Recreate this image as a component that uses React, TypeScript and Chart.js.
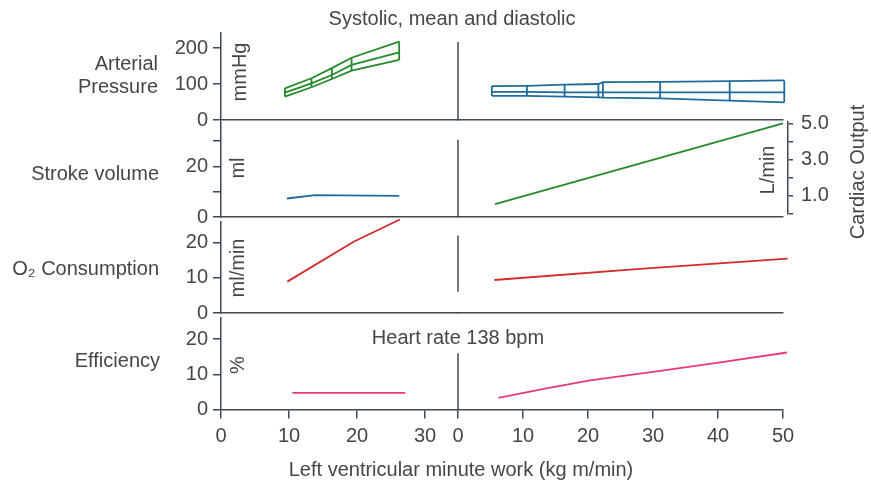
import React, { useEffect, useRef } from 'react';
import { Chart, registerables } from 'chart.js';

Chart.register(...registerables);

const W = 871;
const H = 485;
const FONT = "'Liberation Sans', Arial, sans-serif";
const FONT_SIZE = 20;
const TEXT = '#464646';
const AXIS = '#3f4953';
const GREEN = '#248a2c';
const BLUE = '#1f6b9b';
const RED = '#d52b2b';
const PINK = '#e8397a';

// ---- x axis (left ventricular minute work, kg m/min) ----
const workTicksLeft = [0, 10, 20, 30];
const workTicksRight = [0, 10, 20, 30, 40, 50];

// ---- Arterial pressure (mmHg) ----
const apTicks = [0, 100, 200];
const apLeftWork = [9.4, 13.3, 16.3, 19.2, 26.2];
const apLeftSys = [88, 116, 144, 173, 218];
const apLeftMean = [76, 102, 125, 153, 188];
const apLeftDia = [65, 91, 114, 137, 167];
const apRightWork = [5.2, 10.6, 16.4, 21.6, 22.3, 31.1, 41.8, 50.2];
const apRightSys = [94, 95, 98, 100, 105, 106, 108, 110];
const apRightMean = [78, 78, 77, 77, 77, 77, 77, 77];
const apRightDia = [67, 67, 65, 63, 62, 60, 54, 49];

// ---- Stroke volume (ml) ----
const svTicks = [0, 10, 20, 30];
const svTickLabels = ['0', '', '20', ''];
const svLeftWork = [9.7, 13.8, 26.2];
const svLeft = [7.3, 8.6, 8.3];

// ---- Cardiac output (L/min) ----
const coTicks = [0, 1, 2, 3, 4, 5];
const coTickLabels = ['', '1.0', '', '3.0', '', '5.0'];
const coRightWork = [5.7, 50];
const coRight = [0.55, 5.0];

// ---- O2 consumption (ml/min) ----
const o2Ticks = [0, 10, 20];
const o2LeftWork = [9.75, 19.5, 26.3];
const o2Left = [8.9, 20.2, 26.5];
const o2RightWork = [5.6, 28, 50.7];
const o2Right = [9.35, 12.5, 15.4];

// ---- Efficiency (%) ----
const effTicks = [0, 10, 20];
const effLeftWork = [10.5, 27.1];
const effLeft = [4.7, 4.7];
const effRightWork = [6.2, 13.6, 20.3, 30.0, 39.3, 50.6];
const effRight = [3.3, 6.0, 8.3, 10.7, 13.1, 16.2];

// ---- layout ----
const AREA_LEFT = 221;
const AREA_SPLIT = 458;
const AREA_RIGHT = 783;
const Y_BOX = 60;
const X_BOX = 50;
const CO_BOX = 50;
const XL_MIN = 0;
const XL_MAX = 34.85;
const XR_MIN = 0;
const XR_MAX = 50;

const font = { family: FONT, size: FONT_SIZE };

const pts = (xs: number[], ys: number[]) => xs.map((x, i) => ({ x, y: ys[i] }));

const line = (xs: number[], ys: number[], color: string, xAxisID: string, yAxisID = 'y', width = 1.8) => ({
  data: pts(xs, ys),
  borderColor: color,
  backgroundColor: color,
  borderWidth: width,
  pointRadius: 0,
  fill: false,
  tension: 0,
  xAxisID,
  yAxisID,
  clip: false as any,
});

const xScale = (min: number, max: number, ticks: number[], showTicks: boolean, weight: number) => ({
  type: 'linear',
  position: 'bottom',
  min,
  max,
  bounds: 'data',
  stack: 'work',
  stackWeight: weight,
  afterFit: (s: any) => { s.height = showTicks ? X_BOX : 0; },
  afterBuildTicks: (s: any) => { s.ticks = ticks.map((v) => ({ value: v })); },
  grid: { drawOnChartArea: false, drawTicks: showTicks, tickLength: 9, color: AXIS, lineWidth: 1.5 },
  border: { display: true, color: AXIS, width: 1.5 },
  ticks: {
    display: showTicks, autoSkip: false, maxRotation: 0, padding: 6, color: TEXT, font,
    callback: (v: number) => String(v),
  },
});

const yScale = (max: number, ticks: number[], labels?: string[]) => ({
  type: 'linear',
  position: 'left',
  min: 0,
  max,
  bounds: 'data',
  afterFit: (s: any) => { s.width = Y_BOX; },
  afterBuildTicks: (s: any) => { s.ticks = ticks.map((v) => ({ value: v })); },
  grid: { drawOnChartArea: false, tickLength: 8, color: AXIS, lineWidth: 1.5 },
  border: { color: AXIS, width: 1.5 },
  ticks: {
    autoSkip: false, padding: 5, color: TEXT, font,
    callback: (v: number, i: number) => (labels ? labels[i] : String(v)),
  },
});

const dividerPlugin = (from: number, to: number) => ({
  id: 'divider',
  beforeDatasetsDraw(chart: any) {
    const ctx = chart.ctx;
    const x = chart.scales.xR.getPixelForValue(0);
    const y = chart.scales.y;
    ctx.save();
    ctx.strokeStyle = AXIS;
    ctx.lineWidth = 1.5;
    ctx.beginPath();
    ctx.moveTo(x, y.getPixelForValue(from));
    ctx.lineTo(x, y.getPixelForValue(to));
    ctx.stroke();
    ctx.restore();
  },
});

const rangeBarsPlugin = (groups: { xs: number[]; hi: number[]; lo: number[]; color: string; axis: string }[]) => ({
  id: 'rangeBars',
  afterDatasetsDraw(chart: any) {
    const ctx = chart.ctx;
    const ys = chart.scales.y;
    groups.forEach((g) => {
      const xs = chart.scales[g.axis];
      ctx.save();
      ctx.strokeStyle = g.color;
      ctx.lineWidth = 1.8;
      ctx.beginPath();
      g.xs.forEach((x, i) => {
        const px = xs.getPixelForValue(x);
        ctx.moveTo(px, ys.getPixelForValue(g.lo[i]));
        ctx.lineTo(px, ys.getPixelForValue(g.hi[i]));
      });
      ctx.stroke();
      ctx.restore();
    });
  },
});

const coShiftPlugin = {
  id: 'coShift',
  afterLayout(chart: any) {
    const s = chart.scales.yCO;
    s.left += 5;
    s.right += 5;
    s.bottom = s.getPixelForValue(0);
  },
};

type FreeText = { text: string; x: number; y: number; align: CanvasTextAlign; rotate?: boolean };
const freeTexts: FreeText[] = [
  { text: 'Systolic, mean and diastolic', x: 452, y: 25, align: 'center' },
  { text: 'Arterial', x: 158, y: 70, align: 'right' },
  { text: 'Pressure', x: 158, y: 93, align: 'right' },
  { text: 'Stroke volume', x: 159, y: 180, align: 'right' },
  { text: 'O\u2082 Consumption', x: 159, y: 275, align: 'right' },
  { text: 'Efficiency', x: 160, y: 367, align: 'right' },
  { text: 'Heart rate 138 bpm', x: 458, y: 344, align: 'center' },
  { text: 'Left ventricular minute work (kg m/min)', x: 461, y: 476, align: 'center' },
  { text: 'mmHg', x: 240, y: 72, align: 'center', rotate: true },
  { text: 'ml', x: 238, y: 168, align: 'center', rotate: true },
  { text: 'ml/min', x: 238, y: 268, align: 'center', rotate: true },
  { text: '%', x: 238, y: 365, align: 'center', rotate: true },
  { text: 'L/min', x: 768, y: 170, align: 'center', rotate: true },
  { text: 'Cardiac Output', x: 858, y: 172, align: 'center', rotate: true },
];

const textPlugin = {
  id: 'freeText',
  afterDraw(chart: any) {
    const ctx = chart.ctx;
    ctx.save();
    ctx.fillStyle = TEXT;
    ctx.font = `${FONT_SIZE}px ${FONT}`;
    freeTexts.forEach((t) => {
      if (t.rotate) {
        ctx.save();
        ctx.translate(t.x, t.y);
        ctx.rotate(-Math.PI / 2);
        ctx.textAlign = 'center';
        ctx.textBaseline = 'middle';
        ctx.fillText(t.text, 0, 0);
        ctx.restore();
      } else {
        ctx.textAlign = t.align;
        ctx.textBaseline = 'alphabetic';
        ctx.fillText(t.text, t.x, t.y);
      }
    });
    ctx.restore();
  },
};

type Panel = {
  top: number;
  bottom: number;
  yMax: number;
  yTicks: number[];
  yLabels?: string[];
  datasets: any[];
  divider: [number, number];
  showX: boolean;
  extraScales?: Record<string, any>;
  rightBox: number;
  plugins: any[];
};

const panels: Panel[] = [
  {
    top: 33, bottom: 120, yMax: 241.7, yTicks: apTicks,
    datasets: [
      line(apLeftWork, apLeftSys, GREEN, 'xL'),
      line(apLeftWork, apLeftMean, GREEN, 'xL'),
      line(apLeftWork, apLeftDia, GREEN, 'xL'),
      line(apRightWork, apRightSys, BLUE, 'xR'),
      line(apRightWork, apRightMean, BLUE, 'xR'),
      line(apRightWork, apRightDia, BLUE, 'xR'),
    ],
    divider: [0, 217],
    showX: false,
    rightBox: 0,
    plugins: [
      rangeBarsPlugin([
        { xs: apLeftWork, hi: apLeftSys, lo: apLeftDia, color: GREEN, axis: 'xL' },
        { xs: apRightWork, hi: apRightSys, lo: apRightDia, color: BLUE, axis: 'xR' },
      ]),
    ],
  },
  {
    top: 122, bottom: 217, yMax: 37.5, yTicks: svTicks, yLabels: svTickLabels,
    datasets: [
      line(svLeftWork, svLeft, BLUE, 'xL'),
      line(coRightWork, coRight, GREEN, 'xR', 'yCO'),
    ],
    divider: [0, 30.5],
    showX: false,
    rightBox: CO_BOX,
    extraScales: {
      yCO: {
        type: 'linear', position: 'right', min: -0.165, max: 5.07, bounds: 'data',
        afterFit: (s: any) => { s.width = CO_BOX; },
        afterBuildTicks: (s: any) => { s.ticks = coTicks.map((v) => ({ value: v })); },
        grid: { drawOnChartArea: false, tickLength: 5, color: AXIS, lineWidth: 1.5 },
        border: { color: AXIS, width: 1.5 },
        ticks: {
          autoSkip: false, padding: 8, color: TEXT, font,
          callback: (_v: number, i: number) => coTickLabels[i],
        },
      },
    },
    plugins: [coShiftPlugin],
  },
  {
    top: 222, bottom: 313, yMax: 25.8, yTicks: o2Ticks,
    datasets: [
      line(o2LeftWork, o2Left, RED, 'xL'),
      line(o2RightWork, o2Right, RED, 'xR'),
    ],
    divider: [6, 22],
    showX: false,
    rightBox: 0,
    plugins: [],
  },
  {
    top: 318, bottom: 409.5, yMax: 26, yTicks: effTicks,
    datasets: [
      line(effLeftWork, effLeft, PINK, 'xL'),
      line(effRightWork, effRight, PINK, 'xR'),
    ],
    divider: [0, 16],
    showX: true,
    rightBox: 0,
    plugins: [textPlugin],
  },
];

function buildConfig(p: Panel): any {
  return {
    type: 'line',
    data: { datasets: p.datasets },
    options: {
      responsive: false,
      maintainAspectRatio: false,
      animation: false,
      devicePixelRatio: 1,
      events: [],
      layout: {
        padding: {
          left: AREA_LEFT - Y_BOX,
          right: W - AREA_RIGHT - p.rightBox,
          top: p.top,
          bottom: H - p.bottom - (p.showX ? X_BOX : 0),
        },
      },
      plugins: { legend: { display: false }, tooltip: { enabled: false }, title: { display: false } },
      scales: {
        xL: xScale(XL_MIN, XL_MAX, workTicksLeft, p.showX, AREA_SPLIT - AREA_LEFT),
        xR: xScale(XR_MIN, XR_MAX, workTicksRight, p.showX, AREA_RIGHT - AREA_SPLIT),
        y: yScale(p.yMax, p.yTicks, p.yLabels),
        ...(p.extraScales || {}),
      },
    },
    plugins: [dividerPlugin(p.divider[0], p.divider[1]), ...p.plugins],
  };
}

export default function App() {
  const r0 = useRef<HTMLCanvasElement>(null);
  const r1 = useRef<HTMLCanvasElement>(null);
  const r2 = useRef<HTMLCanvasElement>(null);
  const r3 = useRef<HTMLCanvasElement>(null);
  const refs = [r0, r1, r2, r3];

  useEffect(() => {
    const charts = panels.map((p, i) => new Chart(refs[i].current as HTMLCanvasElement, buildConfig(p)));
    return () => charts.forEach((c) => c.destroy());
  }, []);

  return (
    <div style={{ position: 'absolute', left: 0, top: 0, width: W, height: H, background: '#ffffff' }}>
      {refs.map((r, i) => (
        <canvas
          key={i}
          ref={r}
          width={W}
          height={H}
          style={{ position: 'absolute', left: 0, top: 0, width: W, height: H }}
        />
      ))}
    </div>
  );
}
